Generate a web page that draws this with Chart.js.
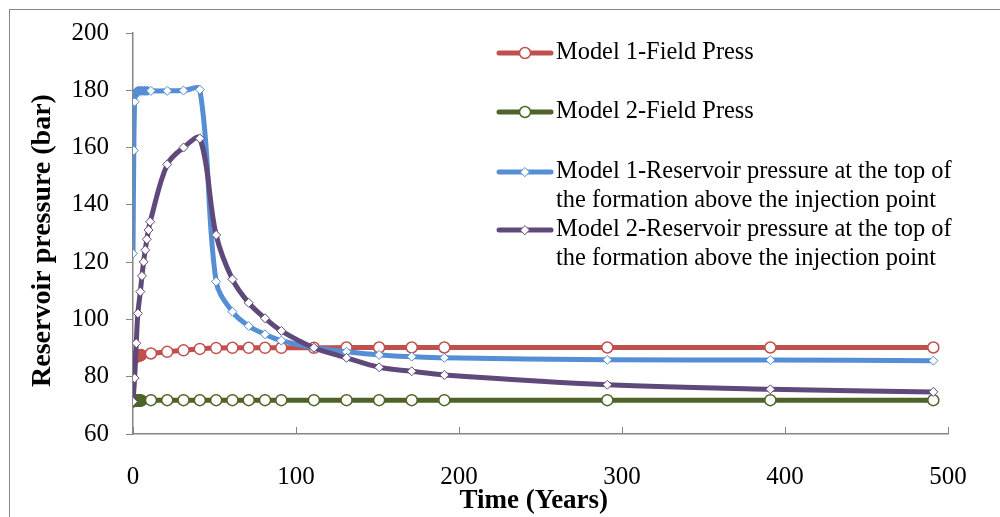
<!DOCTYPE html>
<html>
<head>
<meta charset="utf-8">
<script src="https://cdn.jsdelivr.net/npm/chart.js@4.4.1/dist/chart.umd.min.js"></script>
<style>
  html, body { margin: 0; padding: 0; background: #ffffff; }
  canvas { display: block; }
</style>
</head>
<body>
<canvas id="pressureChart" width="1000" height="517"></canvas>
<script>
// Simulation output times (years)
const fieldYears = [0, 0.5, 1, 1.5, 2, 2.5, 3, 3.5, 4, 4.5, 5, 11, 21, 31, 41, 51, 61, 71, 81, 91, 111, 131, 151, 171, 191, 291, 391, 491];
const model1ResYears = [0, 0.5, 1, 1.5, 2, 3, 4, 5, 6, 7, 8, 9, 11, 21, 31, 41, 51, 61, 71, 81, 91, 111, 131, 151, 171, 191, 291, 391, 491];
const model2ResYears = [0, 1, 2, 3, 4.5, 5.5, 6.5, 7.5, 8.5, 9.5, 10.5, 21, 31, 41, 51, 61, 71, 81, 91, 111, 131, 151, 171, 191, 291, 391, 491];

// Pressures (bar)
const model1FieldPress = [86.6, 86.7, 86.8, 86.9, 87.0, 87.1, 87.2, 87.3, 87.4, 87.5, 87.6, 88.1, 88.7, 89.2, 89.7, 90.0, 90.1, 90.1, 90.1, 90.1, 90.1, 90.2, 90.2, 90.2, 90.2, 90.2, 90.2, 90.2];
const model2FieldPress = [71.4, 71.5, 71.5, 71.6, 71.6, 71.6, 71.7, 71.7, 71.7, 71.7, 71.7, 71.8, 71.8, 71.8, 71.8, 71.8, 71.8, 71.8, 71.8, 71.8, 71.8, 71.8, 71.8, 71.8, 71.8, 71.8, 71.8, 71.8];
const model1ResPress = [123, 159, 176, 178.5, 179.5, 179.8, 179.8, 179.8, 179.8, 179.8, 179.8, 179.8, 179.8, 179.8, 179.9, 180.2, 113.2, 102.7, 97.7, 94.8, 92.6, 90.1, 88.7, 87.6, 87.0, 86.6, 85.9, 85.8, 85.6];
const model2ResPress = [71.3, 79.5, 91.7, 102.1, 109.7, 115.2, 120.1, 124.2, 128.0, 131.2, 134.1, 154.1, 160.0, 163.2, 129.5, 114.0, 105.8, 100.4, 96.0, 90.1, 86.6, 83.3, 81.9, 80.6, 77.2, 75.6, 74.7];

// Axis ticks
const xTickValues = [0, 100, 200, 300, 400, 500];
const yTickValues = [60, 80, 100, 120, 140, 160, 180, 200];

const seriesNames = [
  ['Model 1-Field Press'],
  ['Model 2-Field Press'],
  ['Model 1-Reservoir pressure at the top of', 'the formation above the injection point'],
  ['Model 2-Reservoir pressure at the top of', 'the formation above the injection point']
];

const serif = "'Liberation Serif', 'Times New Roman', serif";
const axisGray = '#868686';
const colors = ['#C0504D', '#4F6228', '#558ED5', '#5F497A'];

function toPoints(xs, ys) {
  return xs.map((x, i) => ({ x: x, y: ys[i] }));
}

// White page with the thin outer frame
const framePlugin = {
  id: 'frame',
  beforeDraw(chart) {
    const ctx = chart.ctx;
    ctx.save();
    ctx.fillStyle = '#ffffff';
    ctx.fillRect(0, 0, chart.width, chart.height);
    ctx.strokeStyle = axisGray;
    ctx.lineWidth = 1;
    ctx.strokeRect(9.5, 9.5, chart.width + 20, chart.height + 20);
    ctx.restore();
  }
};

// Short tick marks pointing up into the plot along the time axis
const innerTicksPlugin = {
  id: 'innerTicks',
  afterDatasetsDraw(chart) {
    const xs = chart.scales.x;
    const ctx = chart.ctx;
    ctx.save();
    ctx.strokeStyle = axisGray;
    ctx.lineWidth = 1;
    xs.ticks.forEach(t => {
      const px = Math.round(xs.getPixelForValue(t.value)) + 0.5;
      ctx.beginPath();
      ctx.moveTo(px, xs.top);
      ctx.lineTo(px, xs.top - 7);
      ctx.stroke();
    });
    ctx.restore();
  }
};

// Legend in the upper right, with wrapped two-line entries
const legendPlugin = {
  id: 'sideLegend',
  afterDraw(chart, args, opts) {
    const ctx = chart.ctx;
    ctx.save();
    ctx.font = opts.fontSize + 'px ' + serif;
    ctx.textBaseline = 'middle';
    ctx.textAlign = 'left';
    chart.data.datasets.forEach((ds, i) => {
      const y = opts.rowY[i];
      ctx.strokeStyle = ds.borderColor;
      ctx.lineWidth = ds.borderWidth;
      ctx.lineCap = 'round';
      ctx.beginPath();
      ctx.moveTo(opts.lineX0, y);
      ctx.lineTo(opts.lineX1, y);
      ctx.stroke();
      ctx.fillStyle = '#ffffff';
      ctx.strokeStyle = ds.pointBorderColor;
      ctx.lineWidth = ds.pointBorderWidth;
      Chart.helpers.drawPoint(ctx, {
        pointStyle: ds.pointStyle,
        radius: ds.pointRadius,
        borderWidth: ds.pointBorderWidth,
        rotation: 0
      }, (opts.lineX0 + opts.lineX1) / 2, y);
      ctx.fillStyle = '#000000';
      seriesNames[i].forEach((line, k) => {
        ctx.fillText(line, opts.textX, y + k * opts.lineHeight);
      });
    });
    ctx.restore();
  }
};

// Markers are white-filled; where the early outputs crowd together they merge into a solid run
function lineSet(label, xs, ys, color, style, radius, order, solidFrom, solidUntil) {
  return {
    label: label,
    data: toPoints(xs, ys),
    borderColor: color,
    backgroundColor: color,
    borderWidth: 5,
    tension: 0.35,
    pointStyle: style,
    pointRadius: radius,
    pointHoverRadius: radius,
    pointBackgroundColor: c => (c.raw && c.raw.x >= solidFrom && c.raw.x <= solidUntil) ? color : '#ffffff',
    pointBorderColor: color,
    pointBorderWidth: style === 'circle' ? 1.5 : 1,
    order: order
  };
}

new Chart(document.getElementById('pressureChart'), {
  type: 'line',
  data: {
    datasets: [
      lineSet(seriesNames[0].join(' '), fieldYears, model1FieldPress, colors[0], 'circle', 5.5, 4, 0.5, 5),
      lineSet(seriesNames[1].join(' '), fieldYears, model2FieldPress, colors[1], 'circle', 5.5, 3, 0.5, 5),
      lineSet(seriesNames[2].join(' '), model1ResYears, model1ResPress, colors[2], 'rectRot', 4.5, 2, 1.5, 9),
      lineSet(seriesNames[3].join(' '), model2ResYears, model2ResPress, colors[3], 'rectRot', 4.5, 1, -1, -1)
    ]
  },
  options: {
    responsive: false,
    animation: false,
    devicePixelRatio: 1,
    layout: { padding: { top: 33, right: 52, left: 0, bottom: 0 } },
    plugins: {
      legend: { display: false },
      tooltip: { enabled: false },
      sideLegend: {
        fontSize: 24.4,
        lineX0: 499, lineX1: 551, textX: 556,
        rowY: [53, 112, 172, 230],
        lineHeight: 29
      }
    },
    scales: {
      x: {
        type: 'linear',
        min: 0, max: 500,
        afterBuildTicks(scale) { scale.ticks = xTickValues.map(v => ({ value: v })); },
        afterFit(scale) { scale.height = 83; },
        grid: { drawOnChartArea: false, drawTicks: false, color: axisGray },
        border: { color: axisGray, width: 1.5 },
        ticks: {
          padding: 28,
          color: '#000000',
          font: { family: serif, size: 25 },
          maxRotation: 0
        },
        title: {
          display: true,
          text: 'Time (Years)  ',
          color: '#000000',
          font: { family: serif, size: 27, weight: 'bold' },
          padding: { top: 0, bottom: 0 }
        }
      },
      y: {
        min: 60, max: 200,
        afterBuildTicks(scale) { scale.ticks = yTickValues.map(v => ({ value: v })); },
        afterFit(scale) { scale.width = 133; },
        grid: { drawOnChartArea: false, drawTicks: true, tickLength: 7, color: axisGray },
        border: { color: axisGray, width: 1.5 },
        ticks: {
          padding: 17,
          color: '#000000',
          font: { family: serif, size: 25 }
        },
        title: {
          display: true,
          text: 'Reservoir pressure (bar)  ',
          color: '#000000',
          font: { family: serif, size: 28, weight: 'bold' },
          padding: { top: 26, bottom: 0 }
        }
      }
    }
  },
  plugins: [framePlugin, innerTicksPlugin, legendPlugin]
});
</script>
</body>
</html>
